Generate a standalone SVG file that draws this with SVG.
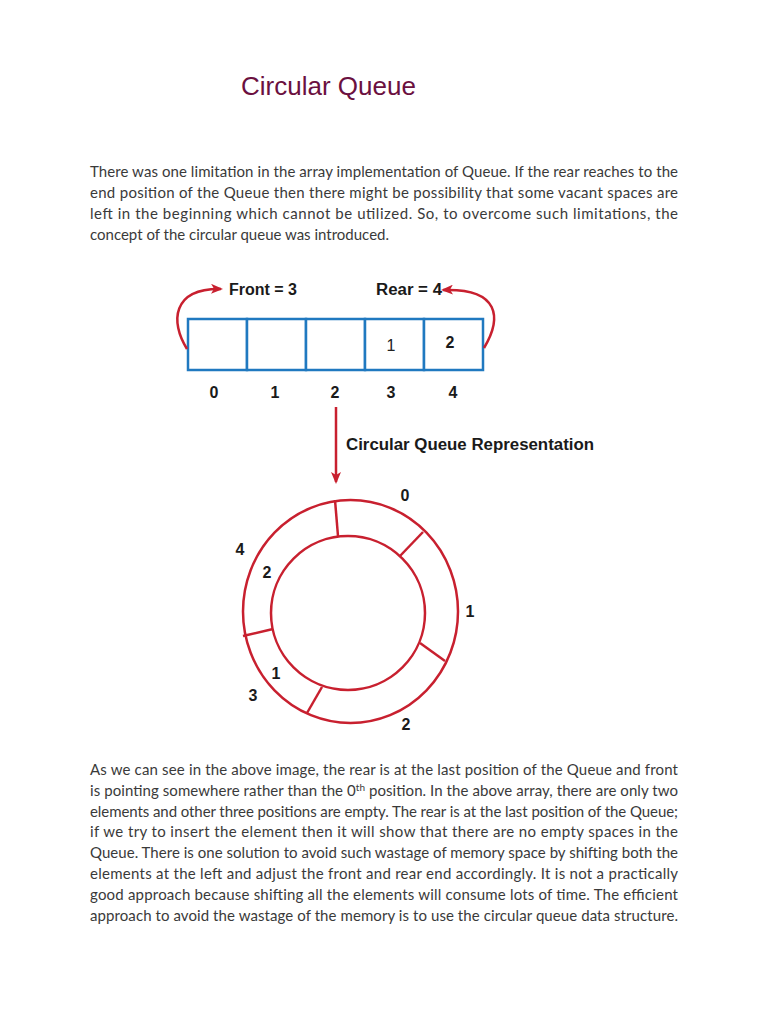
<svg xmlns="http://www.w3.org/2000/svg" width="768" height="1024" viewBox="0 0 768 1024">
<defs>
<style>
.para{font-family:Lato,"Open Sans","Liberation Sans",sans-serif;font-size:15px;fill:#3a3a3a}
.lbl{font-family:"Liberation Sans",Arial,sans-serif;font-size:16px;font-weight:bold;fill:#1a1a1a}
.cell{fill:#fff;stroke:#2079c0;stroke-width:2.5}
.ring{fill:none;stroke:#c8202f;stroke-width:2.5}
.conn{fill:none;stroke:#c8202f;stroke-width:2.5}
</style>
<marker id="ah" viewBox="0 0 12 10" refX="10" refY="5" markerWidth="12" markerHeight="10" markerUnits="userSpaceOnUse" orient="auto">
<path d="M0,0 L12,5 L0,10 L3,5 Z" fill="#c8202f"/>
</marker>
</defs>
<rect width="768" height="1024" fill="#fff"/>
<text x="241" y="95" font-family="'Liberation Sans',Arial,sans-serif" font-size="26" fill="#6b1040">Circular Queue</text>
<g id="para1" class="para">
<text x="90" y="177" textLength="588" lengthAdjust="spacing">There was one limitation in the array implementation of Queue. If the rear reaches to the</text>
<text x="90" y="198" textLength="588" lengthAdjust="spacing">end position of the Queue then there might be possibility that some vacant spaces are</text>
<text x="90" y="219" textLength="588" lengthAdjust="spacing">left in the beginning which cannot be utilized. So, to overcome such limitations, the</text>
<text x="90" y="240">concept of the circular queue was introduced.</text>
</g>
<g id="array">
<rect class="cell" x="188" y="319" width="59" height="51"/>
<rect class="cell" x="247" y="319" width="59" height="51"/>
<rect class="cell" x="306" y="319" width="59" height="51"/>
<rect class="cell" x="365" y="319" width="59" height="51"/>
<rect class="cell" x="424" y="319" width="59" height="51"/>
<text x="391" y="351" text-anchor="middle" font-family="'Liberation Sans',Arial,sans-serif" font-size="16" fill="#222">1</text>
<text x="450" y="348" text-anchor="middle" class="lbl">2</text>
<text x="214" y="398" text-anchor="middle" class="lbl">0</text>
<text x="275" y="398" text-anchor="middle" class="lbl">1</text>
<text x="335" y="398" text-anchor="middle" class="lbl">2</text>
<text x="391" y="398" text-anchor="middle" class="lbl">3</text>
<text x="453" y="398" text-anchor="middle" class="lbl">4</text>
</g>
<g id="front"><text x="229" y="295" class="lbl" textLength="68" lengthAdjust="spacingAndGlyphs">Front = 3</text></g>
<g id="rear"><text x="376" y="295" class="lbl" textLength="66" lengthAdjust="spacingAndGlyphs">Rear = 4</text></g>
<g id="caption"><text x="346" y="450" class="lbl" textLength="248" lengthAdjust="spacingAndGlyphs">Circular Queue Representation</text></g>
<g id="connectors">
<path class="conn" d="M187,349 C170,322 172,288 221,289" marker-end="url(#ah)"/>
<path class="conn" d="M484,348 C502,318 500,288 443,290" marker-end="url(#ah)"/>
<path class="conn" d="M336,407 L336,482" marker-end="url(#ah)"/>
</g>
<g id="ring">
<ellipse class="ring" cx="350.5" cy="611.5" rx="107.5" ry="111.5"/>
<circle class="ring" cx="348" cy="613" r="77"/>
<line class="ring" x1="335" y1="500" x2="338" y2="536"/>
<line class="ring" x1="423" y1="532" x2="400" y2="556"/>
<line class="ring" x1="445" y1="661" x2="420" y2="643"/>
<line class="ring" x1="307" y1="713" x2="322" y2="687"/>
<line class="ring" x1="243" y1="636" x2="273" y2="629"/>
</g>
<g id="ring-labels" class="lbl">
<text x="405" y="501" text-anchor="middle">0</text>
<text x="470" y="617" text-anchor="middle">1</text>
<text x="406" y="730" text-anchor="middle">2</text>
<text x="253" y="701" text-anchor="middle">3</text>
<text x="276" y="679" text-anchor="middle">1</text>
<text x="240" y="555" text-anchor="middle">4</text>
<text x="267" y="578" text-anchor="middle">2</text>
</g>
<g id="para2" class="para">
<text x="90" y="775" textLength="588" lengthAdjust="spacing">As we can see in the above image, the rear is at the last position of the Queue and front</text>
<text x="90" y="796" textLength="588" lengthAdjust="spacing">is pointing somewhere rather than the 0<tspan dy="-5" font-size="10">th</tspan><tspan dy="5"> position. In the above array, there are only two</tspan></text>
<text x="90" y="817" textLength="588" lengthAdjust="spacing">elements and other three positions are empty. The rear is at the last position of the Queue;</text>
<text x="90" y="837" textLength="588" lengthAdjust="spacing">if we try to insert the element then it will show that there are no empty spaces in the</text>
<text x="90" y="858" textLength="588" lengthAdjust="spacing">Queue. There is one solution to avoid such wastage of memory space by shifting both the</text>
<text x="90" y="879" textLength="588" lengthAdjust="spacing">elements at the left and adjust the front and rear end accordingly. It is not a practically</text>
<text x="90" y="900" textLength="588" lengthAdjust="spacing">good approach because shifting all the elements will consume lots of time. The efficient</text>
<text x="90" y="921" textLength="588" lengthAdjust="spacing">approach to avoid the wastage of the memory is to use the circular queue data structure.</text>
</g>
</svg>
